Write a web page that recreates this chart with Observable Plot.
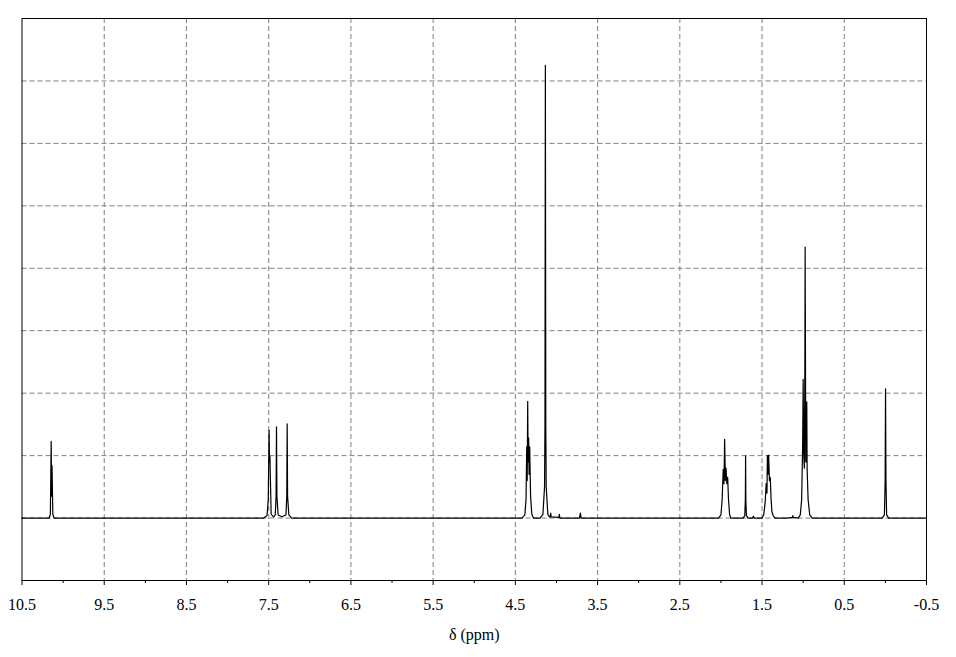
<!DOCTYPE html>
<html>
<head>
<meta charset="utf-8">
<script src="https://cdn.jsdelivr.net/npm/d3@7"></script>
<script src="https://cdn.jsdelivr.net/npm/@observablehq/plot@0.6"></script>
<style>
  html, body { margin: 0; padding: 0; background: #fff; }
  #chart { width: 956px; height: 657px; }
  #chart svg text { font-family: "Liberation Serif", "Times New Roman", serif; }
</style>
</head>
<body>
<div id="chart"></div>
<script>
// Spectrum vertices: chemical shift (ppm) and intensity (grid units)
const ppm = [
  10.5, 10.3, 10.17, 10.155, 10.145, 10.14, 10.135, 10.125, 10.11, 9.9, 9.0, 8.0,
  7.56, 7.52, 7.505, 7.495, 7.49, 7.485, 7.47, 7.44, 7.42, 7.41, 7.405, 7.4, 7.385, 7.34, 7.29, 7.28, 7.275, 7.27, 7.255, 7.22,
  6.5, 5.5, 4.8, 4.42,
  4.385, 4.37, 4.362, 4.356, 4.35, 4.345, 4.338, 4.333, 4.326, 4.315, 4.3, 4.28,
  4.2, 4.165, 4.145, 4.14, 4.135, 4.13, 4.125, 4.105, 4.085, 4.075, 4.07, 4.065, 3.97, 3.965, 3.96, 3.955, 3.72, 3.71, 3.70, 3.69,
  3.0, 2.4, 2.03,
  2.0, 1.985, 1.972, 1.963, 1.955, 1.946, 1.938, 1.928, 1.918, 1.908, 1.895, 1.88, 1.86,
  1.73, 1.71, 1.703, 1.700, 1.697, 1.69, 1.67, 1.615, 1.605, 1.595, 1.5,
  1.48, 1.462, 1.45, 1.44, 1.435, 1.428, 1.42, 1.41, 1.40, 1.39, 1.38, 1.365, 1.34,
  1.2, 1.13, 1.125, 1.12, 1.06,
  1.035, 1.018, 1.006, 1.0, 0.993, 0.985, 0.979, 0.976, 0.968, 0.962, 0.956, 0.952, 0.94, 0.92, 0.89,
  0.6, 0.04, 0.012, 0.003, -0.002, -0.007, -0.015, -0.04, -0.3, -0.5
];
const intensity = [
  0, 0, 0, 0.06, 1.23, 0.35, 0.84, 0.06, 0, 0, 0, 0,
  0, 0.04, 0.3, 1.41, 0.9, 1.0, 0.06, 0.02, 0.05, 0.35, 1.46, 0.35, 0.05, 0.02, 0.05, 0.35, 1.51, 0.35, 0.05, 0,
  0, 0, 0, 0,
  0.05, 0.3, 1.14, 0.6, 1.87, 0.9, 1.28, 0.7, 1.14, 0.35, 0.06, 0,
  0, 0.06, 0.5, 1.5, 7.25, 1.5, 0.5, 0.06, 0.02, 0.02, 0.08, 0.02, 0.01, 0.06, 0.01, 0, 0, 0.08, 0, 0,
  0, 0, 0,
  0.05, 0.3, 0.78, 0.55, 1.26, 0.6, 0.8, 0.55, 0.65, 0.3, 0.06, 0, 0,
  0, 0.04, 0.3, 1.0, 0.3, 0.04, 0, 0, 0.03, 0, 0,
  0.05, 0.25, 0.55, 0.4, 1.0, 0.7, 1.01, 0.6, 0.65, 0.3, 0.1, 0.04, 0,
  0, 0.01, 0.04, 0.01, 0,
  0.05, 0.3, 1.2, 2.22, 1.0, 0.8, 2.5, 4.34, 0.9, 0.9, 1.86, 0.8, 0.3, 0.05, 0,
  0, 0, 0.05, 0.6, 2.07, 0.6, 0.05, 0, 0, 0
];
const majorTicks = [10.5, 9.5, 8.5, 7.5, 6.5, 5.5, 4.5, 3.5, 2.5, 1.5, 0.5, -0.5];
const minorTicks = [10, 9, 8, 7, 6, 5, 4, 3, 2, 1, 0];
const xGrid = [9.5, 8.5, 7.5, 6.5, 5.5, 4.5, 3.5, 2.5, 1.5, 0.5];
const yGrid = [0, 1, 2, 3, 4, 5, 6, 7];
const xLabel = "δ (ppm)";

const spectrum = ppm.map((p, i) => ({ppm: p, intensity: intensity[i]}));

const chart = Plot.plot({
  width: 956,
  height: 657,
  marginLeft: 21.5,
  marginRight: 30,
  marginTop: 18,
  marginBottom: 77,
  style: {fontFamily: "'Liberation Serif', 'Times New Roman', serif", fontSize: "16px", background: "#fff", color: "#000"},
  x: {domain: [10.5, -0.5]},
  y: {domain: [-1, 8], axis: null},
  marks: [
    Plot.ruleX(xGrid, {stroke: "#808080", strokeWidth: 1, strokeDasharray: "5,3"}),
    Plot.ruleY(yGrid, {stroke: "#808080", strokeWidth: 1, strokeDasharray: "5,3"}),
    Plot.line(spectrum, {x: "ppm", y: "intensity", stroke: "#000", strokeWidth: 1.2, curve: "linear"}),
    Plot.frame({stroke: "#000", strokeWidth: 1}),
    Plot.axisX({ticks: minorTicks, tickSize: 3, text: null, stroke: "#000", label: null}),
    Plot.axisX({ticks: majorTicks, tickSize: 5, tickPadding: 13, tickFormat: d => d.toFixed(1), stroke: "#000", fill: "#000", fontSize: 16, label: null}),
    Plot.text([xLabel], {frameAnchor: "bottom", dy: 59, fontSize: 16, fill: "#000"})
  ]
});
document.getElementById("chart").appendChild(chart);
</script>
</body>
</html>
